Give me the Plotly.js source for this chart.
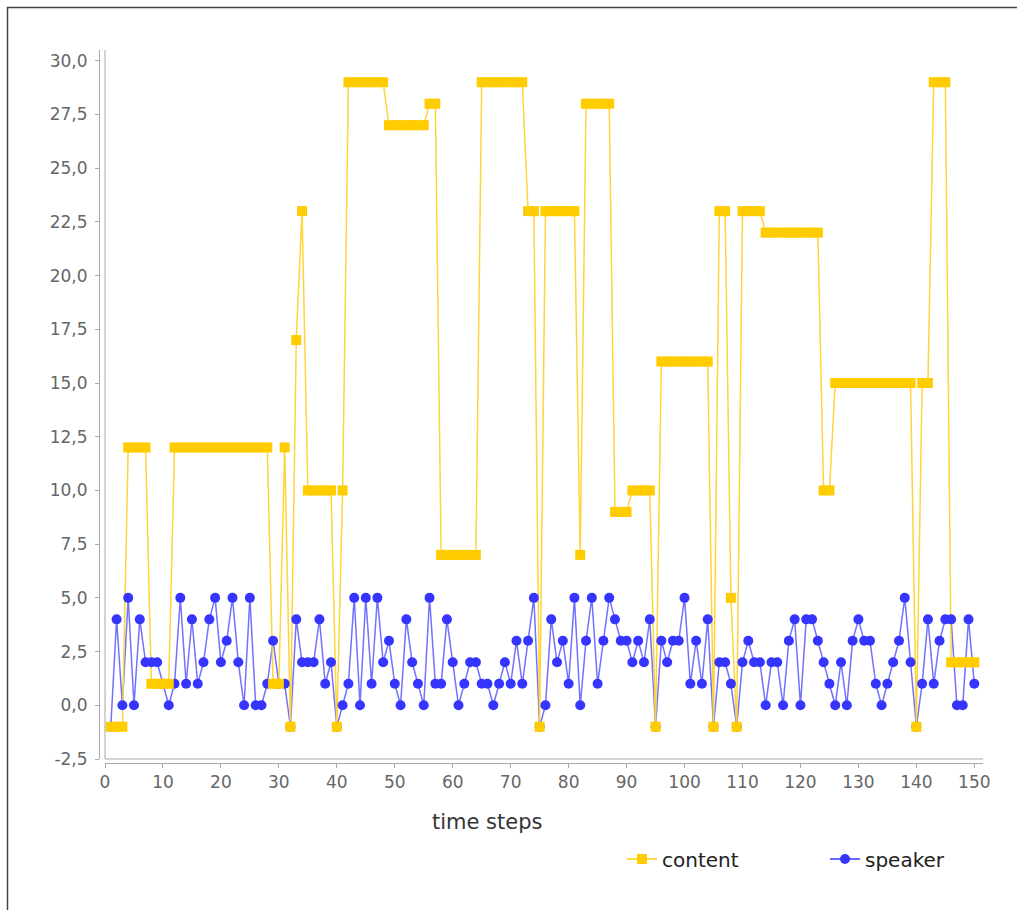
<!DOCTYPE html>
<html>
<head>
<meta charset="utf-8">
<script src="https://cdn.plot.ly/plotly-3.0.1.min.js"></script>
<style>
html, body { margin: 0; padding: 0; background: #ffffff; overflow: hidden; }
#chart { width: 1017px; height: 910px; }
</style>
</head>
<body>
<div id="chart"></div>
<script>
// time steps (x categories)
var timeSteps = [
  1,2,3,4,5,6,7,8,9,10,
  11,12,13,14,15,16,17,18,19,20,
  21,22,23,24,25,26,27,28,29,30,
  31,32,33,34,35,36,37,38,39,40,
  41,42,43,44,45,46,47,48,49,50,
  51,52,53,54,55,56,57,58,59,60,
  61,62,63,64,65,66,67,68,69,70,
  71,72,73,74,75,76,77,78,79,80,
  81,82,83,84,85,86,87,88,89,90,
  91,92,93,94,95,96,97,98,99,100,
  101,102,103,104,105,106,107,108,109,110,
  111,112,113,114,115,116,117,118,119,120,
  121,122,123,124,125,126,127,128,129,130,
  131,132,133,134,135,136,137,138,139,140,
  141,142,143,144,145,146,147,148,149,150
];

// series "content"
var contentValues = [
  -1,-1,-1,12,12,12,12,1,1,1,
  1,12,12,12,12,12,12,12,12,12,
  12,12,12,12,12,12,12,12,1,1,
  12,-1,17,23,10,10,10,10,10,-1,
  10,29,29,29,29,29,29,29,27,27,
  27,27,27,27,27,28,28,7,7,7,
  7,7,7,7,29,29,29,29,29,29,
  29,29,23,23,-1,23,23,23,23,23,
  23,7,28,28,28,28,28,9,9,9,
  10,10,10,10,-1,16,16,16,16,16,
  16,16,16,16,-1,23,23,5,-1,23,
  23,23,23,22,22,22,22,22,22,22,
  22,22,22,10,10,15,15,15,15,15,
  15,15,15,15,15,15,15,15,15,-1,
  15,15,29,29,29,2,2,2,2,2
];

// series "speaker"
var speakerValues = [
  -1,4,0,5,0,4,2,2,2,1,
  0,1,5,1,4,1,2,4,5,2,
  3,5,2,0,5,0,0,1,3,1,
  1,-1,4,2,2,2,4,1,2,-1,
  0,1,5,0,5,1,5,2,3,1,
  0,4,2,1,0,5,1,1,4,2,
  0,1,2,2,1,1,0,1,2,1,
  3,1,3,5,-1,0,4,2,3,1,
  5,0,3,5,1,3,5,4,3,3,
  2,3,2,4,-1,3,2,3,3,5,
  1,3,1,4,-1,2,2,1,-1,2,
  3,2,2,0,2,2,0,3,4,0,
  4,4,3,2,1,0,2,0,3,4,
  3,3,1,0,1,2,3,5,2,-1,
  1,4,1,3,4,4,0,0,4,1
];

var seriesNames = ['content', 'speaker'];
var xTitle = 'time steps';

// y tick values and labels (decimal comma, ASCII hyphen as in the original)
var yTickValues = [-2.5, 0, 2.5, 5, 7.5, 10, 12.5, 15, 17.5, 20, 22.5, 25, 27.5, 30];
var yTickLabels = ['-2,5', '0,0', '2,5', '5,0', '7,5', '10,0', '12,5', '15,0', '17,5', '20,0', '22,5', '25,0', '27,5', '30,0'];
var xTickValues = [0, 10, 20, 30, 40, 50, 60, 70, 80, 90, 100, 110, 120, 130, 140, 150];

var contentMarker = '#FFCC00';
var contentLine = '#FFD43A';
var speakerMarker = '#3535FF';
var speakerLine = '#7272FF';

var traces = [
  // lines first (behind all shapes), like the original renderer
  { x: timeSteps, y: speakerValues, type: 'scatter', mode: 'lines',
    line: { color: speakerLine, width: 1.5 }, showlegend: false, hoverinfo: 'skip' },
  { x: timeSteps, y: contentValues, type: 'scatter', mode: 'lines',
    line: { color: contentLine, width: 1.5 }, showlegend: false, hoverinfo: 'skip' },
  // shapes
  { x: timeSteps, y: speakerValues, type: 'scatter', mode: 'markers', name: seriesNames[1],
    marker: { color: speakerMarker, size: 10, symbol: 'circle' }, showlegend: false },
  { x: timeSteps, y: contentValues, type: 'scatter', mode: 'markers', name: seriesNames[0],
    marker: { color: contentMarker, size: 10, symbol: 'square' }, showlegend: false },
  // legend entries
  { x: [null], y: [null], type: 'scatter', mode: 'lines+markers', name: seriesNames[0],
    line: { color: contentMarker, width: 1.5 }, marker: { color: contentMarker, size: 10, symbol: 'square' } },
  { x: [null], y: [null], type: 'scatter', mode: 'lines+markers', name: seriesNames[1],
    line: { color: speakerMarker, width: 1.5 }, marker: { color: speakerMarker, size: 10, symbol: 'circle' } }
];

// pixel helpers for the paper area (x: 99..983, y: 50..763)
var W = 1017, H = 910;
var L = 99, R = 983, T = 50, B = 763;
function px(xp) { return (xp - L) / (R - L); }
function py(yp) { return (B - yp) / (B - T); }

var axisGray = '#a8a8a8';
var tickFont = { family: 'DejaVu Sans, sans-serif', size: 17, color: '#666666' };

var layout = {
  width: W,
  height: H,
  autosize: false,
  margin: { l: L, r: W - R, t: T, b: H - B, pad: 0, autoexpand: false },
  paper_bgcolor: '#ffffff',
  plot_bgcolor: '#ffffff',
  showlegend: true,
  xaxis: {
    domain: [6 / (R - L), 1],
    range: [0, 151.5],
    anchor: 'free',
    position: 0,
    showline: true,
    linecolor: axisGray,
    linewidth: 1,
    ticks: 'outside',
    ticklen: 4,
    tickcolor: axisGray,
    tickmode: 'array',
    tickvals: xTickValues,
    ticktext: xTickValues.map(String),
    showgrid: false,
    zeroline: false,
    automargin: false,
    tickfont: tickFont
  },
  yaxis: {
    domain: [4 / (B - T), 1],
    range: [-2.5, 30.5],
    anchor: 'free',
    position: 0,
    showline: true,
    linecolor: axisGray,
    linewidth: 1,
    ticks: 'outside',
    ticklen: 4,
    tickcolor: axisGray,
    tickmode: 'array',
    tickvals: yTickValues,
    ticktext: yTickLabels,
    showgrid: false,
    zeroline: false,
    automargin: false,
    ticklabelstandoff: 4,
    tickfont: tickFont
  },
  legend: {
    orientation: 'h',
    xref: 'container',
    yref: 'container',
    x: 622 / W,
    xanchor: 'left',
    y: 1 - 859 / H,
    yanchor: 'middle',
    bgcolor: 'rgba(0,0,0,0)',
    font: { family: 'DejaVu Sans, sans-serif', size: 20, color: '#222222' },
    itemwidth: 30,
    entrywidth: 158,
    entrywidthmode: 'pixels'
  },
  annotations: [
    { text: xTitle, xref: 'paper', yref: 'paper', x: px(487), y: py(822),
      xanchor: 'center', yanchor: 'middle', showarrow: false,
      font: { family: 'DejaVu Sans, sans-serif', size: 21, color: '#333333' } }
  ],
  shapes: [
    // plot-area border (left and bottom), inside the offset axis lines
    { type: 'line', xref: 'x domain', yref: 'y domain', x0: 0, x1: 0, y0: 0, y1: 1,
      line: { color: axisGray, width: 1 } },
    { type: 'line', xref: 'x domain', yref: 'y domain', x0: 0, x1: 1, y0: 0, y1: 0,
      line: { color: axisGray, width: 1 } },
    // outer frame of the picture
    { type: 'line', xref: 'paper', yref: 'paper', x0: px(7), x1: px(W), y0: py(7.5), y1: py(7.5),
      line: { color: '#444444', width: 1.5 } },
    { type: 'line', xref: 'paper', yref: 'paper', x0: px(7.5), x1: px(7.5), y0: py(7), y1: py(H),
      line: { color: '#444444', width: 1.5 } }
  ]
};

Plotly.newPlot('chart', traces, layout, { staticPlot: true, displayModeBar: false });
</script>
</body>
</html>
